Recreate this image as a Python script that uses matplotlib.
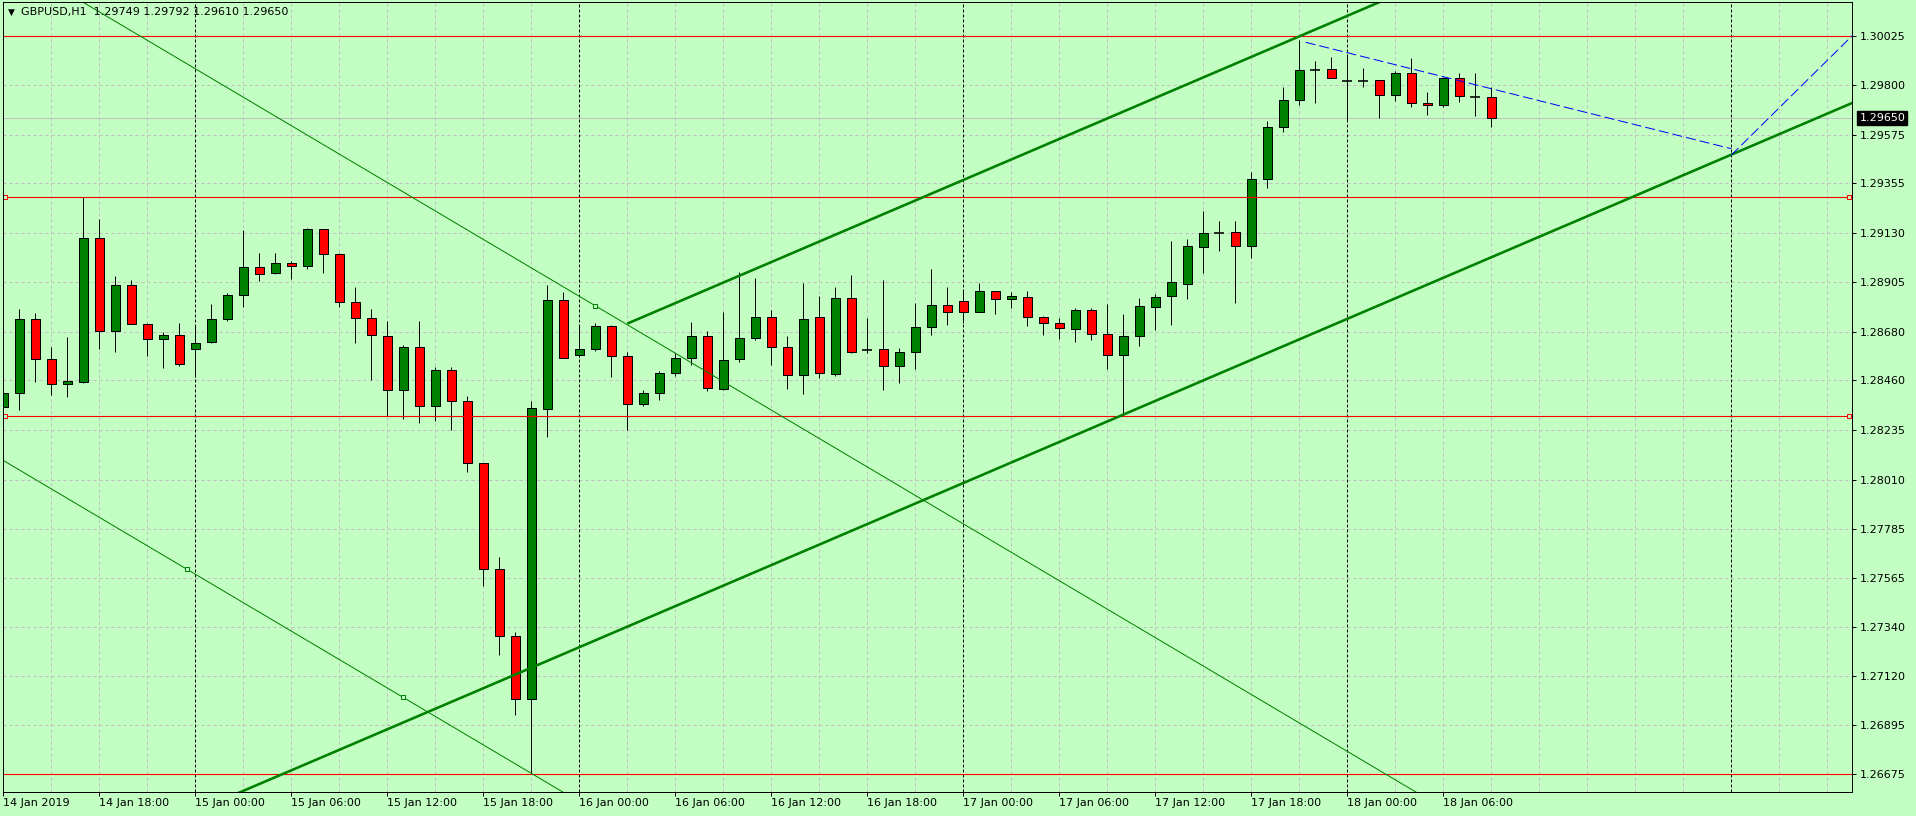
import matplotlib
matplotlib.use("Agg")
import matplotlib.pyplot as plt
from matplotlib.transforms import blended_transform_factory
import numpy as np

# ---------------- data ----------------
hours = list(range(-12, 82))  # hours relative to 15 Jan 2019 00:00
opens = [1.28338, 1.28405, 1.28738, 1.28556, 1.28442, 1.28455, 1.29105, 1.28686, 1.28892, 1.28715,
         1.28647, 1.28665, 1.28601, 1.28636, 1.28738, 1.28846, 1.28974, 1.28946, 1.28992, 1.28981,
         1.29146, 1.29033, 1.28815, 1.28742, 1.28660, 1.28416, 1.28614, 1.28346, 1.28509, 1.28365,
         1.28084, 1.27603, 1.27299, 1.27012, 1.28332, 1.28824, 1.28574, 1.28601, 1.28706, 1.28570,
         1.28355, 1.28405, 1.28492, 1.28560, 1.28664, 1.28419, 1.28556, 1.28655, 1.28746, 1.28610,
         1.28483, 1.28746, 1.28488, 1.28833, 1.28598, 1.28601, 1.28524, 1.28588, 1.28701, 1.28801,
         1.28819, 1.28769, 1.28864, 1.28828, 1.28837, 1.28746, 1.28719, 1.28692, 1.28778, 1.28669,
         1.28574, 1.28660, 1.28792, 1.28842, 1.28899, 1.29067, 1.29131, 1.29132, 1.29072, 1.29373,
         1.29609, 1.29732, 1.29869, 1.29872, 1.29818, 1.29821, 1.29822, 1.29754, 1.29854, 1.29718,
         1.29709, 1.29831, 1.29748, 1.29749]
highs = [1.28560, 1.28783, 1.28765, 1.28613, 1.28656, 1.29294, 1.29193, 1.28934, 1.28916, 1.28722,
         1.28680, 1.28722, 1.28707, 1.28807, 1.28856, 1.29143, 1.29037, 1.29037, 1.29001, 1.29151,
         1.29146, 1.29037, 1.28883, 1.28783, 1.28731, 1.28619, 1.28728, 1.28520, 1.28523, 1.28388,
         1.28084, 1.27658, 1.27316, 1.28367, 1.28893, 1.28862, 1.28706, 1.28720, 1.28714, 1.28589,
         1.28416, 1.28503, 1.28584, 1.28727, 1.28685, 1.28770, 1.28952, 1.28923, 1.28780, 1.28662,
         1.28904, 1.28843, 1.28883, 1.28939, 1.28743, 1.28916, 1.28607, 1.28813, 1.28966, 1.28884,
         1.28871, 1.28904, 1.28864, 1.28861, 1.28866, 1.28752, 1.28743, 1.28789, 1.28789, 1.28807,
         1.28762, 1.28834, 1.28852, 1.29093, 1.29102, 1.29229, 1.29184, 1.29184, 1.29406, 1.29638,
         1.29792, 1.30005, 1.29910, 1.29928, 1.29933, 1.29878, 1.29822, 1.29866, 1.29924, 1.29769,
         1.29839, 1.29856, 1.29856, 1.29792]
lows = [1.28326, 1.28326, 1.28455, 1.28394, 1.28383, 1.28447, 1.28603, 1.28591, 1.28715, 1.28571,
        1.28518, 1.28527, 1.28477, 1.28632, 1.28728, 1.28792, 1.28912, 1.28942, 1.28922, 1.28965,
        1.28949, 1.28792, 1.28632, 1.28462, 1.28299, 1.28284, 1.28266, 1.28277, 1.28237, 1.28046,
        1.27528, 1.27215, 1.26943, 1.26673, 1.28205, 1.28560, 1.28567, 1.28596, 1.28476, 1.28237,
        1.28346, 1.28370, 1.28480, 1.28529, 1.28414, 1.28417, 1.28546, 1.28645, 1.28529, 1.28423,
        1.28400, 1.28473, 1.28482, 1.28586, 1.28583, 1.28417, 1.28450, 1.28512, 1.28668, 1.28712,
        1.28719, 1.28769, 1.28763, 1.28789, 1.28707, 1.28668, 1.28650, 1.28636, 1.28645, 1.28512,
        1.28303, 1.28618, 1.28690, 1.28712, 1.28831, 1.28946, 1.29049, 1.28813, 1.29017, 1.29335,
        1.29589, 1.29710, 1.29721, 1.29831, 1.29642, 1.29791, 1.29653, 1.29730, 1.29703, 1.29665,
        1.29700, 1.29726, 1.29662, 1.29610]
closes = [1.28405, 1.28738, 1.28556, 1.28442, 1.28458, 1.29105, 1.28686, 1.28892, 1.28715, 1.28647,
          1.28665, 1.28533, 1.28629, 1.28738, 1.28846, 1.28974, 1.28942, 1.28992, 1.28981, 1.29148,
          1.29033, 1.28818, 1.28742, 1.28665, 1.28417, 1.28614, 1.28346, 1.28509, 1.28365, 1.28084,
          1.27603, 1.27299, 1.27012, 1.28336, 1.28827, 1.28560, 1.28605, 1.28706, 1.28570, 1.28355,
          1.28405, 1.28492, 1.28560, 1.28664, 1.28424, 1.28551, 1.28655, 1.28746, 1.28610, 1.28483,
          1.28737, 1.28492, 1.28833, 1.28591, 1.28598, 1.28526, 1.28588, 1.28701, 1.28801, 1.28769,
          1.28769, 1.28864, 1.28828, 1.28842, 1.28746, 1.28719, 1.28696, 1.28778, 1.28669, 1.28574,
          1.28660, 1.28796, 1.28837, 1.28905, 1.29069, 1.29128, 1.29131, 1.29072, 1.29373, 1.29609,
          1.29732, 1.29868, 1.29869, 1.29831, 1.29818, 1.29821, 1.29757, 1.29854, 1.29718, 1.29709,
          1.29831, 1.29750, 1.29748, 1.29650]

time_tick_hours = [-12, -6, 0, 6, 12, 18, 24, 30, 36, 42, 48, 54, 60, 66, 72, 78]
time_tick_labels = ["14 Jan 2019", "14 Jan 18:00", "15 Jan 00:00", "15 Jan 06:00", "15 Jan 12:00",
                    "15 Jan 18:00", "16 Jan 00:00", "16 Jan 06:00", "16 Jan 12:00", "16 Jan 18:00",
                    "17 Jan 00:00", "17 Jan 06:00", "17 Jan 12:00", "17 Jan 18:00", "18 Jan 00:00",
                    "18 Jan 06:00"]
price_ticks = [1.30025, 1.29800, 1.29575, 1.29355, 1.29130, 1.28905, 1.28680, 1.28460,
               1.28235, 1.28010, 1.27785, 1.27565, 1.27340, 1.27120, 1.26895, 1.26675]
day_separators = [0, 24, 48, 72, 96]
red_levels = [1.30025, 1.29294, 1.28299, 1.26672]
red_marked_levels = [1.29294, 1.28299]
last_price = 1.29650
title_text = "GBPUSD,H1  1.29749 1.29792 1.29610 1.29650"

# trend lines (anchor hour, anchor price)
lower_trend_h = [58, 96]
lower_trend_p = [1.28305, 1.29485]
upper_trend_h = [27, 69]
upper_trend_p = [1.28718, 1.30022]
chan_b_h = [-0.5, 13]
chan_b_p = [1.27602, 1.27021]
chan_a_h = [25]
chan_a_p = [1.28799]
blue1_h = [69.4, 96]
blue1_p = [1.29995, 1.29512]
blue2_h = [96, 103.56]
blue2_p = [1.29483, 1.30025]

# ---------------- style ----------------
W, H = 1916, 816
DPI = 100
PX = 72.0 / DPI  # points per pixel
BG = "#C3FFC3"
GRID = "#C2BCC2"
UP = "#008000"
DOWN = "#FF0000"
plt.rcParams["font.family"] = ["DejaVu Sans"]
plt.rcParams["lines.scale_dashes"] = False
FS = 8.0

fig = plt.figure(figsize=(W / DPI, H / DPI), dpi=DPI, facecolor=BG)
ax_l, ax_r, ax_t, ax_b = 2.7, 1852.3, 2.3, 792.0
ax = fig.add_axes([ax_l / W, 1 - ax_b / H, (ax_r - ax_l) / W, (ax_b - ax_t) / H])
ax.set_facecolor(BG)

# pixel geometry -> data limits
bar_px = 16.0
x0_px = 195.3  # x of hour 0
ppx = 4.5393e-5  # price per pixel
ref_y, ref_p = 35.7, 1.30025
ax.set_xlim((ax_l - x0_px) / bar_px, (ax_r - x0_px) / bar_px)
ax.set_ylim(ref_p - (ax_b - ref_y) * ppx, ref_p + (ref_y - ax_t) * ppx)
xmin, xmax = ax.get_xlim()

# grid
for p in price_ticks:
    ax.axhline(p, color=GRID, lw=1 * PX, ls=(0, (3 * PX, 3 * PX)), zorder=0.5)
for hh in range(-12, 104, 3):
    if hh not in day_separators:
        ax.axvline(hh, color=GRID, lw=1 * PX, ls=(0, (3 * PX, 3 * PX)), zorder=0.5)
for hh in day_separators:
    ax.axvline(hh, color="black", lw=1 * PX, ls=(0, (3 * PX, 2 * PX)), zorder=0.6)

# last price line
ax.axhline(last_price, color="#C0C0C0", lw=1 * PX, zorder=0.7)

# candles
hrs = np.array(hours, dtype=float)
o = np.array(opens); c = np.array(closes); hi = np.array(highs); lo = np.array(lows)
ax.vlines(hrs, lo, hi, color="black", lw=1 * PX, zorder=2)
body_w = 9.3 / bar_px
for x, oo, cc in zip(hrs, o, c):
    if abs(cc - oo) < 1e-9:
        ax.hlines(oo, x - body_w / 2 - 0.03, x + body_w / 2 + 0.03, color="black", lw=1.6 * PX, zorder=3)
    else:
        col = UP if cc > oo else DOWN
        ax.bar(x, abs(cc - oo), bottom=min(oo, cc), width=body_w, color=col,
               edgecolor="black", linewidth=1 * PX, zorder=3)

# horizontal red levels
for p in red_levels:
    ax.axhline(p, color=DOWN, lw=1.1 * PX, zorder=4)
mark_h = [(ax_l + 2.6 - x0_px) / bar_px, (ax_r - 3.3 - x0_px) / bar_px]
for p in red_marked_levels:
    ax.plot(mark_h, [p, p], ls="none", marker="s", ms=4.2 * PX, mfc=BG, mec=DOWN, mew=1 * PX, zorder=4.5)

def extend(hs, ps, h_from, h_to):
    k = (ps[-1] - ps[0]) / (hs[-1] - hs[0])
    return [h_from, h_to], [ps[0] + k * (h_from - hs[0]), ps[0] + k * (h_to - hs[0])]

# thick green trend lines
xs, ys = extend(lower_trend_h, lower_trend_p, xmin - 5, xmax + 5)
ax.plot(xs, ys, color=UP, lw=2.6 * PX, zorder=5, solid_capstyle="butt")
xs, ys = extend(upper_trend_h, upper_trend_p, upper_trend_h[0], xmax + 5)
ax.plot(xs, ys, color=UP, lw=2.6 * PX, zorder=5, solid_capstyle="butt")

# thin equidistant channel
kb = (chan_b_p[1] - chan_b_p[0]) / (chan_b_h[1] - chan_b_h[0])
xs, ys = extend(chan_b_h, chan_b_p, xmin - 5, xmax + 5)
ax.plot(xs, ys, color=UP, lw=1 * PX, zorder=5)
a_from = xmin - 5
ax.plot([a_from, xmax + 5],
        [chan_a_p[0] + kb * (a_from - chan_a_h[0]), chan_a_p[0] + kb * (xmax + 5 - chan_a_h[0])],
        color=UP, lw=1 * PX, zorder=5)
ax.plot(chan_b_h + chan_a_h, chan_b_p + chan_a_p, ls="none", marker="s", ms=4.6 * PX,
        mfc=BG, mec=UP, mew=1 * PX, zorder=5.5)

# blue dashed lines
ax.plot(blue1_h, blue1_p, color="#0000FF", lw=1 * PX, ls=(0, (10 * PX, 4 * PX)), zorder=6)
ax.plot(blue2_h, blue2_p, color="#0000FF", lw=1 * PX, ls=(0, (10 * PX, 4 * PX)), zorder=6)

# axes styling
for s in ax.spines.values():
    s.set_color("black")
    s.set_linewidth(1 * PX)
    s.set_zorder(10)
ax.yaxis.tick_right()
ax.set_yticks(price_ticks)
ax.set_yticklabels([f"{p:.5f}" for p in price_ticks])
ax.tick_params(axis="y", direction="out", length=4 * PX, width=1 * PX, pad=2.2,
               labelsize=FS, colors="black")
ax.set_xticks(time_tick_hours)
ax.set_xticklabels(time_tick_labels, ha="left")
ax.tick_params(axis="x", direction="out", length=4 * PX, width=1 * PX, pad=1.8,
               labelsize=FS, colors="black")
for lbl in ax.get_xticklabels():
    lbl.set_horizontalalignment("left")
ax.grid(False)

# current price box
tr = blended_transform_factory(ax.transAxes, ax.transData)
ax.text((1859.5 - ax_l) / (ax_r - ax_l), last_price, f"{last_price:.5f}", transform=tr,
        ha="left", va="center", fontsize=FS, color="white", zorder=20, clip_on=False,
        bbox=dict(boxstyle="square,pad=0.18", facecolor="black", edgecolor="black"))

# title
fig.text(8 / W, 1 - 12.5 / H, "\u25BC", fontsize=6.5, ha="left", va="center", color="black")
fig.text(21 / W, 1 - 12.5 / H, title_text, fontsize=FS, ha="left", va="center", color="black")

fig.savefig("out.png", dpi=DPI, facecolor=BG)
